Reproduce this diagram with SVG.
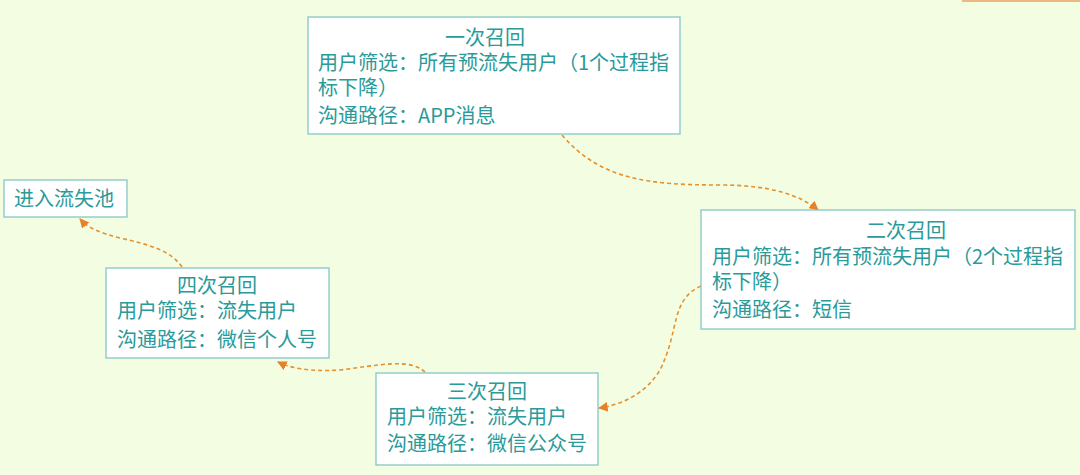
<svg xmlns="http://www.w3.org/2000/svg" width="1080" height="475" viewBox="0 0 1080 475">
<defs>
<style>
.box{fill:#ffffff;stroke:#86c6c6;stroke-width:1.3}
.t{font-family:"Microsoft YaHei","Noto Sans CJK SC",sans-serif;font-size:20px;fill:#2a9a9a}
.c{text-anchor:middle}
.conn{fill:none;stroke:#e8902a;stroke-width:1.6;stroke-dasharray:4 3}
</style>
<marker id="ah" viewBox="0 0 10 10" refX="9" refY="5" markerWidth="6" markerHeight="6" orient="auto-start-reverse">
<path d="M0,0 L10,5 L0,10 z" fill="#e8802a"/>
</marker>
</defs>
<rect width="1080" height="475" fill="#f3fde2"/>
<line x1="962" y1="1" x2="1080" y2="1" stroke="#e8a060" stroke-width="1.5"/>
<g id="connectors">
<path class="conn" d="M562,135 C600,180 650,185 720,185 C770,185 800,195 818,210" marker-end="url(#ah)"/>
<path class="conn" d="M701,286 C670,300 680,330 660,370 C645,395 620,405 599,408" marker-end="url(#ah)"/>
<path class="conn" d="M425,372 C410,358 380,365 340,370 C310,372 290,368 278,362" marker-end="url(#ah)"/>
<path class="conn" d="M182,267 C170,250 150,245 120,238 C100,233 88,228 80,219" marker-end="url(#ah)"/>
</g>
<g id="n1">
<rect class="box" x="308" y="17" width="372" height="117"/>
<text class="t"><tspan class="c" x="485" y="45">一次召回</tspan><tspan x="318" y="70">用户筛选：所有预流失用户（1个过程指</tspan><tspan x="318" y="95">标下降）</tspan><tspan x="318" y="123">沟通路径：APP消息</tspan></text>
</g>
<g id="n2">
<rect class="box" x="701" y="210" width="374" height="119"/>
<text class="t"><tspan class="c" x="906" y="238">二次召回</tspan><tspan x="712" y="264">用户筛选：所有预流失用户（2个过程指</tspan><tspan x="712" y="289">标下降）</tspan><tspan x="712" y="317">沟通路径：短信</tspan></text>
</g>
<g id="n3">
<rect class="box" x="376" y="373" width="222" height="92"/>
<text class="t"><tspan class="c" x="487" y="399">三次召回</tspan><tspan x="387" y="424">用户筛选：流失用户</tspan><tspan x="387" y="451">沟通路径：微信公众号</tspan></text>
</g>
<g id="n4">
<rect class="box" x="106" y="268" width="223" height="90"/>
<text class="t"><tspan class="c" x="217" y="293">四次召回</tspan><tspan x="117" y="318">用户筛选：流失用户</tspan><tspan x="117" y="347">沟通路径：微信个人号</tspan></text>
</g>
<g id="n5">
<rect class="box" x="4" y="180" width="123" height="37"/>
<text class="t" x="14" y="206">进入流失池</text>
</g>
</svg>
